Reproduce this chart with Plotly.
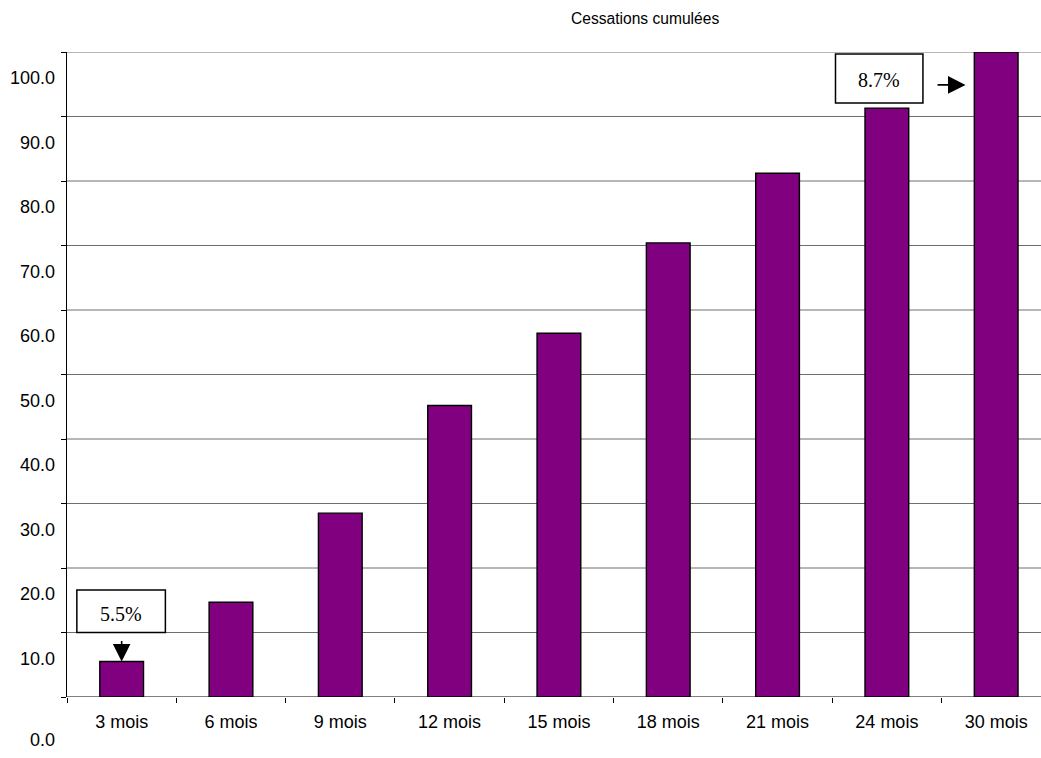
import plotly.graph_objects as go

# Cumulative cessations by elapsed period
categories = ["3 mois", "6 mois", "9 mois", "12 mois", "15 mois",
              "18 mois", "21 mois", "24 mois", "30 mois"]
cumulative = [5.5, 14.7, 28.5, 45.2, 56.4, 70.4, 81.2, 91.3, 100.0]

y_ticks = [0, 10, 20, 30, 40, 50, 60, 70, 80, 90, 100]
y_tick_labels = ["0.0", "10.0", "20.0", "30.0", "40.0", "50.0",
                 "60.0", "70.0", "80.0", "90.0", "100.0"]

first_note = "5.5%"
last_note = "8.7%"

W, H = 1041, 758
font_sans = "Liberation Sans, Arial, sans-serif"
font_serif = "Liberation Serif, Times New Roman, serif"

fig = go.Figure()
fig.add_trace(go.Bar(
    x=categories,
    y=cumulative,
    marker=dict(color="#800080", line=dict(color="#000000", width=1.4)),
    width=0.40,
    hoverinfo="x+y",
))

# Horizontal grid lines (zero line drawn in black)
shapes = []
for v in y_ticks:
    shapes.append(dict(
        type="line", xref="paper", yref="y", x0=0, x1=1, y0=v, y1=v,
        line=dict(color="#000000" if v == 0 else "#6e6e6e", width=1),
        layer="below",
    ))

# Call-out boxes
shapes.append(dict(type="rect", xref="x", yref="y",
                   x0=-0.41, x1=0.40, y0=10.0, y1=16.6,
                   line=dict(color="#000000", width=1.5),
                   fillcolor="#ffffff"))
shapes.append(dict(type="rect", xref="x", yref="y",
                   x0=6.53, x1=7.33, y0=92.1, y1=99.7,
                   line=dict(color="#000000", width=1.5),
                   fillcolor="#ffffff"))

annotations = []
# Y tick labels, drawn slightly below their grid lines
for v, t in zip(y_ticks, y_tick_labels):
    annotations.append(dict(
        x=0, xref="paper", y=v, yref="y", xshift=-10,
        yshift=-43 if v == 0 else -26,
        text=t, showarrow=False, xanchor="right", yanchor="middle",
        font=dict(family=font_sans, size=18, color="#000000"),
    ))

annotations.append(dict(
    x=-0.005, y=12.8, xref="x", yref="y", text=first_note, showarrow=False,
    font=dict(family=font_serif, size=20, color="#000000"),
))
annotations.append(dict(
    x=6.93, y=95.6, xref="x", yref="y", text=last_note, showarrow=False,
    font=dict(family=font_serif, size=20, color="#000000"),
))

# Arrow down onto the first bar
annotations.append(dict(
    x=0, y=cumulative[0], xref="x", yref="y",
    ax=0, ay=8.9, axref="x", ayref="y",
    text="", showarrow=True, arrowhead=2, arrowsize=2.2, arrowwidth=1.6,
    arrowcolor="#000000",
))
# Arrow pointing toward the last bar
annotations.append(dict(
    x=7.72, y=94.9, xref="x", yref="y",
    ax=7.45, ay=94.9, axref="x", ayref="y",
    text="", showarrow=True, arrowhead=2, arrowsize=2.2, arrowwidth=1.6,
    arrowcolor="#000000",
))

plot_left, plot_right, plot_top, plot_bottom = 67, W, 52, 697

# Title, placed in pixel terms relative to the plot area
annotations.append(dict(
    x=(645 - plot_left) / (plot_right - plot_left),
    y=(plot_bottom - 18) / (plot_bottom - plot_top),
    xref="paper", yref="paper", text="Cessations cumulées",
    showarrow=False, yanchor="middle",
    font=dict(family=font_sans, size=15.6, color="#000000"),
))

fig.update_layout(
    width=W, height=H,
    margin=dict(l=plot_left, r=W - plot_right, t=plot_top,
                b=H - plot_bottom, pad=0),
    paper_bgcolor="#ffffff",
    plot_bgcolor="#ffffff",
    showlegend=False,
    shapes=shapes,
    annotations=annotations,
    xaxis=dict(
        range=[-0.5, 8.41],
        showgrid=False, zeroline=False,
        showline=False,
        ticks="outside", ticklen=5, tickcolor="#000000", tickwidth=1,
        tickson="boundaries",
        tickfont=dict(family=font_sans, size=18, color="#000000"),
        ticklabelstandoff=12,
    ),
    yaxis=dict(
        range=[0, 100],
        tickvals=y_ticks,
        showticklabels=False,
        showgrid=False, zeroline=False,
        showline=True, linecolor="#000000", linewidth=1,
        ticks="outside", ticklen=5, tickcolor="#000000", tickwidth=1,
    ),
)

fig.write_html("out.html")
